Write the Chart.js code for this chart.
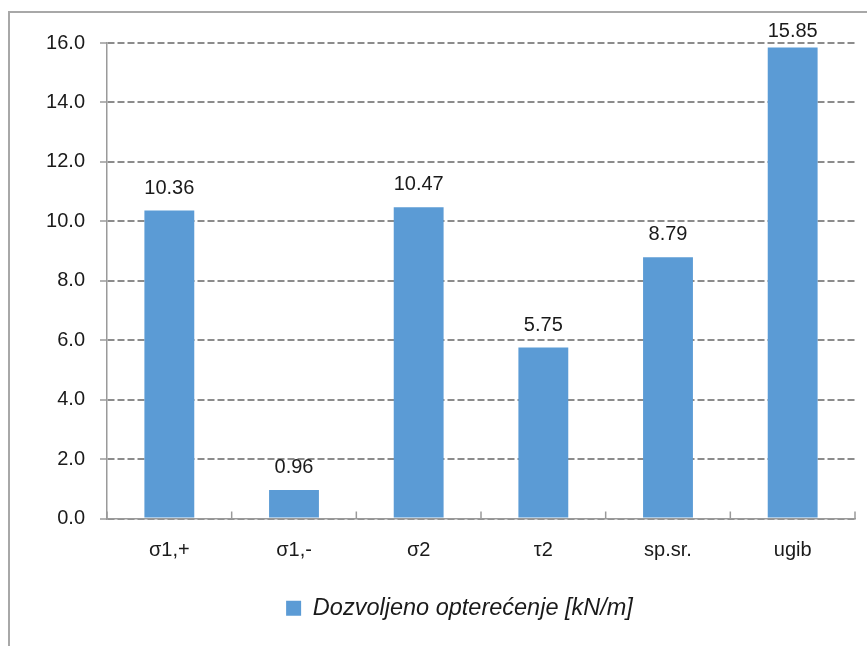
<!DOCTYPE html>
<html><head><meta charset="utf-8">
<script src="https://cdn.jsdelivr.net/npm/chart.js@4/dist/chart.umd.min.js"></script>
<style>html,body{margin:0;padding:0;background:#fff}#wrap{width:867px;height:646px;position:relative}</style>
</head><body><div id="wrap"><canvas id="c" width="867" height="646"></canvas></div>
<script>
const categories = ["σ1,+", "σ1,-", "σ2", "τ2", "sp.sr.", "ugib"];
const values = [10.36, 0.96, 10.47, 5.75, 8.79, 15.85];
const seriesName = "Dozvoljeno opterećenje [kN/m]";
const yMin = 0, yMax = 16, yStep = 2;

const FONT = "'Liberation Sans', Arial, sans-serif";
const TEXT = "#1a1a1a";
const GRAY = "#9a9a9a";

const frame = {
  id: 'frame',
  beforeDraw(chart) {
    const c = chart.ctx;
    c.save();
    c.fillStyle = '#fff';
    c.fillRect(0, 0, chart.width, chart.height);
    c.strokeStyle = '#a8a8a8';
    c.lineWidth = 2;
    c.beginPath();
    c.moveTo(9, chart.height);
    c.lineTo(9, 12);
    c.lineTo(chart.width, 12);
    c.stroke();
    c.restore();
  }
};

const legendShift = {
  id: 'legendShift',
  afterLayout(chart) {
    if (chart.legend) chart.legend.left += 64;
  }
};

const catTicks = {
  id: 'catTicks',
  afterDraw(chart) {
    const x = chart.scales.x, a = chart.chartArea, c = chart.ctx;
    c.save();
    c.strokeStyle = GRAY;
    c.lineWidth = 1.5;
    const n = categories.length;
    const step = x.getPixelForValue(1) - x.getPixelForValue(0);
    for (let i = 0; i <= n; i++) {
      const px = x.getPixelForValue(0) - step / 2 + i * step;
      c.beginPath();
      c.moveTo(px, a.bottom);
      c.lineTo(px, a.bottom - 7);
      c.stroke();
    }
    c.restore();
  }
};

const valueLabels = {
  id: 'valueLabels',
  afterDatasetsDraw(chart) {
    const c = chart.ctx, meta = chart.getDatasetMeta(0), a = chart.chartArea;
    c.save();
    c.font = "20px " + FONT;
    c.fillStyle = TEXT;
    c.textAlign = 'center';
    c.textBaseline = 'alphabetic';
    meta.data.forEach((el, i) => {
      const y = Math.max(el.y - 17, a.top - 6);
      c.fillText(values[i].toFixed(2), el.x, y);
    });
    c.restore();
  }
};

new Chart(document.getElementById('c'), {
  type: 'bar',
  data: {
    labels: categories,
    datasets: [{
      label: seriesName,
      data: values,
      backgroundColor: '#5B9BD5',
      borderWidth: 0,
      barPercentage: 0.4,
      categoryPercentage: 1.0
    }]
  },
  options: {
    responsive: false,
    animation: false,
    layout: { padding: { left: 0, right: 12, top: 43, bottom: 16 } },
    plugins: {
      tooltip: { enabled: false },
      legend: {
        display: true,
        position: 'bottom',
        labels: {
          boxWidth: 15,
          boxHeight: 15,
          padding: 10,
          color: TEXT,
          font: { family: FONT, size: 23.5, style: 'italic' }
        }
      }
    },
    scales: {
      x: {
        grid: { display: false, drawTicks: false },
        border: { display: true, color: GRAY, width: 1.5 },
        ticks: { color: TEXT, padding: 20, font: { family: FONT, size: 20 } },
        afterFit(s) { s.height = 68; }
      },
      y: {
        min: yMin, max: yMax,
        grid: {
          color: '#8c8c8c', lineWidth: 2,
          drawTicks: true, tickLength: 7, tickBorderDash: [], tickColor: GRAY, tickWidth: 1.5
        },
        border: { display: true, color: GRAY, width: 1.5, dash: [7, 3] },
        ticks: {
          stepSize: yStep, color: TEXT, padding: 15,
          font: { family: FONT, size: 20 },
          callback: v => Number(v).toFixed(1)
        },
        afterFit(s) { s.width = 107; }
      }
    }
  },
  plugins: [frame, legendShift, catTicks, valueLabels]
});
</script>
</body></html>
